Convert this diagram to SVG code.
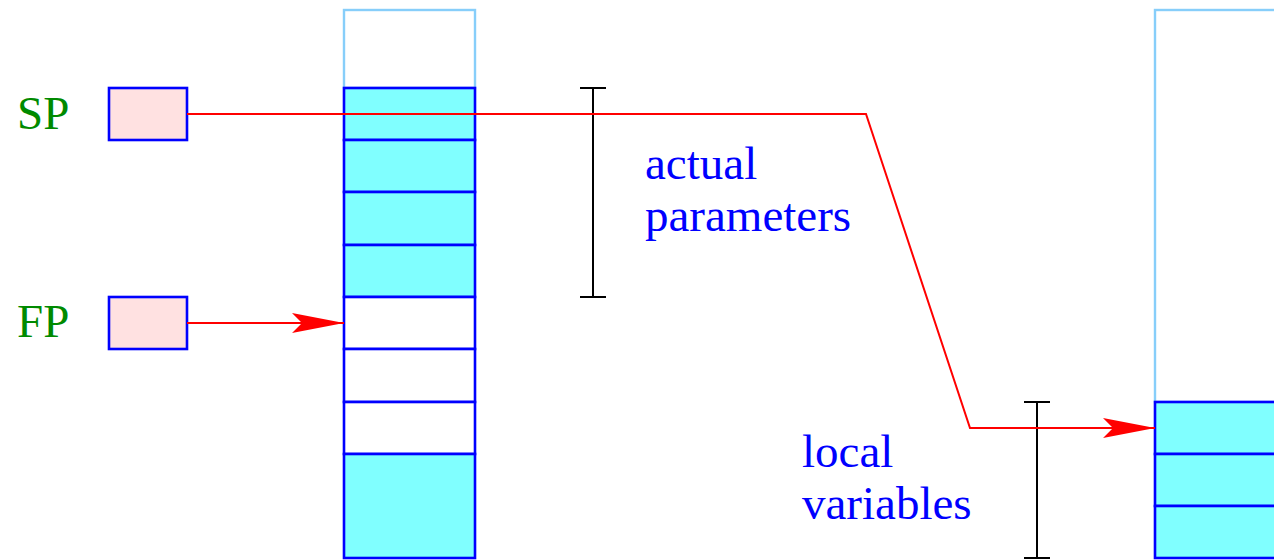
<svg xmlns="http://www.w3.org/2000/svg" width="1274" height="560" viewBox="0 0 1274 560">
<defs>
<style>
.reg{fill:#ffe1e1;stroke:#0000ff;stroke-width:2.6}
.cell{fill:#80ffff;stroke:#0000ff;stroke-width:2.6}
.empty{fill:#ffffff;stroke:#0000ff;stroke-width:2.6}
.free{fill:#ffffff;stroke:#87cefa;stroke-width:2.4}
.lbl{font-family:"Liberation Serif",serif;font-size:47px;fill:#0000ff}
.reglbl{font-family:"Liberation Serif",serif;font-size:47px;fill:#008a00}
.ptr{fill:none;stroke:#ff0000;stroke-width:2}
.brk{fill:none;stroke:#000000;stroke-width:2}
</style>
<marker id="ah" markerUnits="userSpaceOnUse" markerWidth="54" markerHeight="22" refX="52" refY="10" orient="auto" viewBox="0 0 54 22">
<path d="M0,0 L52,10 L0,20 L10,10 Z" fill="#ff0000"/>
</marker>
</defs>
<g id="stack1">
<rect class="free" x="344" y="10" width="131" height="78"/>
<rect class="cell" x="344" y="88" width="131" height="52"/>
<rect class="cell" x="344" y="140" width="131" height="52"/>
<rect class="cell" x="344" y="192" width="131" height="53"/>
<rect class="cell" x="344" y="245" width="131" height="52"/>
<rect class="empty" x="344" y="297" width="131" height="52"/>
<rect class="empty" x="344" y="349" width="131" height="53"/>
<rect class="empty" x="344" y="402" width="131" height="52"/>
<rect class="cell" x="344" y="454" width="131" height="104"/>
</g>
<g id="stack2">
<rect class="free" x="1155" y="10" width="130" height="392"/>
<rect class="cell" x="1155" y="402" width="130" height="52"/>
<rect class="cell" x="1155" y="454" width="130" height="52"/>
<rect class="cell" x="1155" y="506" width="130" height="52"/>
</g>
<g id="sp">
<text class="reglbl" x="17" y="129">SP</text>
<rect class="reg" x="109" y="88" width="78" height="52"/>
</g>
<g id="fp">
<text class="reglbl" x="17" y="337">FP</text>
<rect class="reg" x="109" y="297" width="78" height="52"/>
</g>
<g id="actual">
<path class="brk" d="M593,88 V297 M580,88 H606 M580,297 H606"/>
<text class="lbl" x="645" y="179">actual</text>
<text class="lbl" x="645" y="231">parameters</text>
</g>
<g id="local">
<path class="brk" d="M1037,402 V558 M1024,402 H1050 M1024,558 H1050"/>
<text class="lbl" x="802" y="467">local</text>
<text class="lbl" x="802" y="519">variables</text>
</g>
<g id="connectors">
<polyline class="ptr" points="187,114 866,114 970,428 1155,428" marker-end="url(#ah)"/>
<line class="ptr" x1="187" y1="323" x2="344" y2="323" marker-end="url(#ah)"/>
</g>
</svg>
